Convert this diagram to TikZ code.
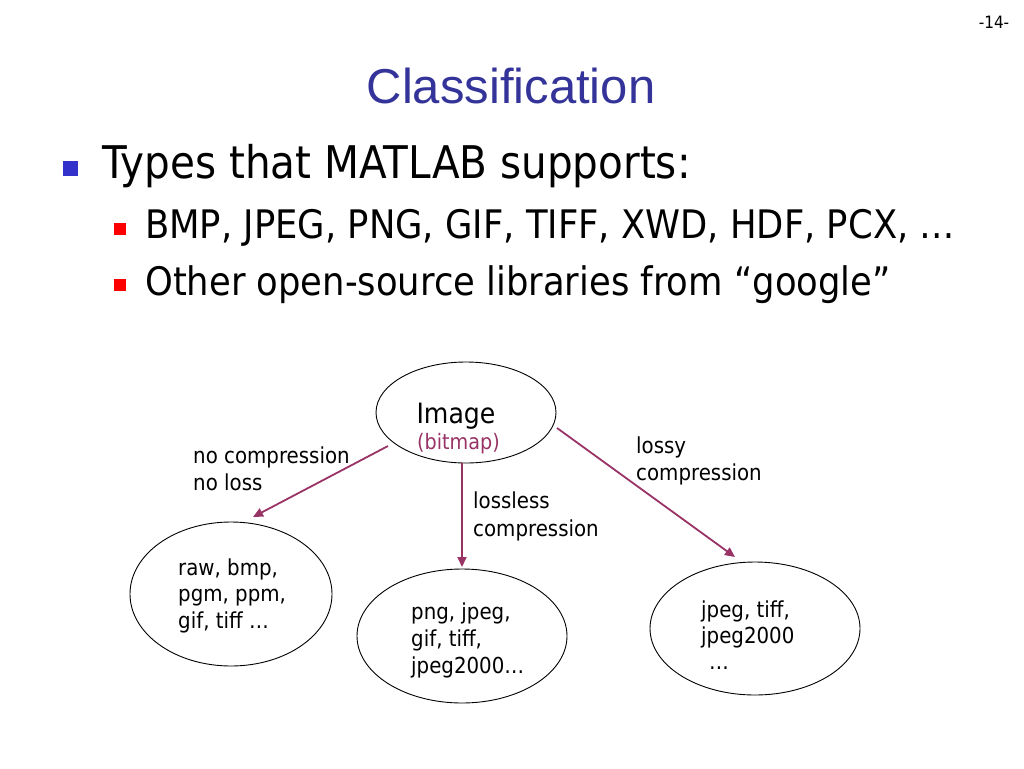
\documentclass[tikz,border=0pt]{standalone}
\usepackage{fontspec}
\setmainfont{DejaVu Sans}[FakeStretch=0.9]
\newfontfamily\titlefont{Liberation Sans}
\usetikzlibrary{shapes.geometric,arrows.meta}
\definecolor{titleblue}{HTML}{333399}
\definecolor{bulblue}{HTML}{3333CC}
\definecolor{bulred}{HTML}{FF0000}
\definecolor{plum}{HTML}{993366}
\tikzset{
  oval/.style={draw=black, line width=0.9pt, ellipse, inner sep=0pt},
  arr/.style={draw=plum, line width=1.8pt, -{Triangle[length=10pt,width=9pt]}},
  lbl/.style={anchor=base west, inner sep=0pt, font=\fontsize{22}{26}\selectfont},
  body/.style={anchor=base west, inner sep=0pt},
}
\begin{document}
\begin{tikzpicture}[x=1pt,y=-1pt]
\useasboundingbox (0,0) rectangle (1024,768);
\node[inner sep=0pt, font=\fontsize{17}{20}\selectfont] (pg) at (994,22) {-14-};
\node[anchor=base, inner sep=0pt, text=titleblue, font=\titlefont\fontsize{49}{54}\selectfont] (title) at (511,103) {Classification};
\fill[bulblue] (63,161) rectangle (78,176);
\node[body, font=\fontsize{45}{50}\selectfont] (l1) at (102,178) {Types that MATLAB supports:};
\fill[bulred] (114,223) rectangle (126,235);
\node[body, font=\fontsize{39.3}{44}\selectfont] (l2) at (145,238) {BMP, JPEG, PNG, GIF, TIFF, XWD, HDF, PCX, …};
\fill[bulred] (114,279) rectangle (126,291);
\node[body, font=\fontsize{39.3}{44}\selectfont] (l3) at (145,295) {Other open-source libraries from “google”};

\node[oval, minimum width=180pt, minimum height=101pt] (img) at (466,412.5) {};
\node[anchor=base, inner sep=0pt, font=\fontsize{28}{32}\selectfont] (imgt) at (456,423) {Image};
\node[anchor=base, inner sep=0pt, text=plum, font=\fontsize{21.3}{24}\selectfont] (bit) at (458.5,449) {(bitmap)};

\node[oval, minimum width=202pt, minimum height=144pt] (e1) at (231,594) {};
\node[oval, minimum width=210pt, minimum height=134pt] (e2) at (462,636) {};
\node[oval, minimum width=210pt, minimum height=133pt] (e3) at (755,628.5) {};

\node[lbl] (t1a) at (178,575) {raw, bmp,};
\node[lbl] (t1b) at (178,601) {pgm, ppm,};
\node[lbl] (t1c) at (178,628) {gif, tiff …};

\node[lbl] (t2a) at (411,619) {png, jpeg,};
\node[lbl] (t2b) at (411,646) {gif, tiff,};
\node[lbl] (t2c) at (411,673) {jpeg2000…};

\node[lbl] (t3a) at (701,617) {jpeg, tiff,};
\node[lbl] (t3b) at (701,643) {jpeg2000};
\node[lbl] (t3c) at (709,669) {…};

\node[lbl] (c1a) at (193,463) {no compression};
\node[lbl] (c1b) at (193,490) {no loss};
\node[lbl] (c2a) at (473,508) {lossless};
\node[lbl] (c2b) at (473,536) {compression};
\node[lbl] (c3a) at (636,453) {lossy};
\node[lbl] (c3b) at (636,480) {compression};

\coordinate (a1s) at (388,446);
\coordinate (a1e) at (253,517);
\coordinate (a2s) at (462,463);
\coordinate (a2e) at (462,567);
\coordinate (a3s) at (557,428);
\coordinate (a3e) at (735,557);
\draw[arr] (a1s) -- (a1e);
\draw[arr] (a2s) -- (a2e);
\draw[arr] (a3s) -- (a3e);
\end{tikzpicture}
\end{document}
